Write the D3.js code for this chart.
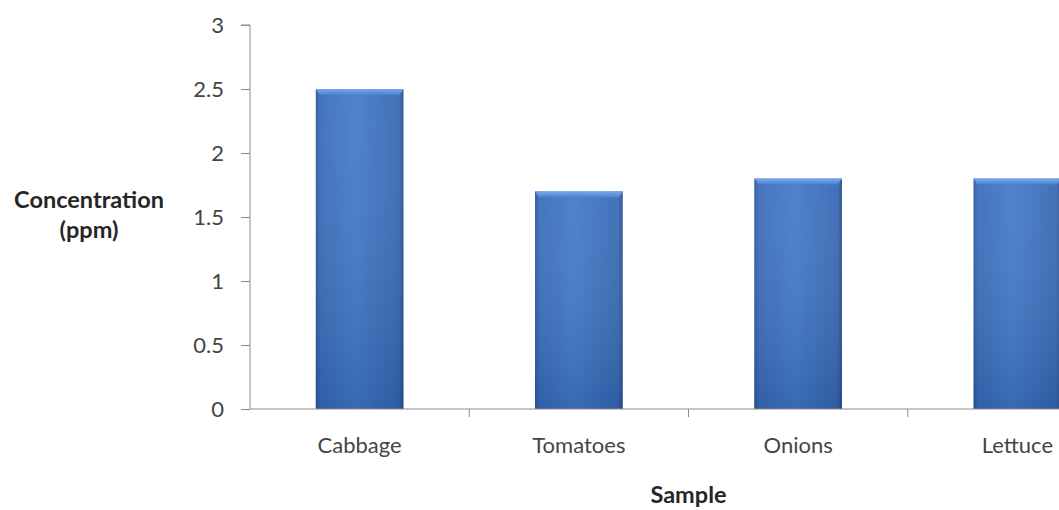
<!DOCTYPE html>
<html>
<head>
<meta charset="utf-8">
<script src="https://cdn.jsdelivr.net/npm/d3@7"></script>
<style>
  html, body { margin: 0; padding: 0; background: #fff; overflow: hidden; }
  svg { display: block; }
  svg text { font-family: Lato, "Open Sans", sans-serif; }
</style>
</head>
<body>
<svg id="chart" width="1059" height="510"></svg>
<script>
// Concentration per vegetable sample
const categories = ["Cabbage", "Tomatoes", "Onions", "Lettuce"];
const values = [2.5, 1.7, 1.8, 1.8];
const yTicks = [0, 0.5, 1, 1.5, 2, 2.5, 3];

const svg = d3.select("#chart");
const plotLeft = 250, plotTop = 25, plotW = 877, plotH = 384;

const x = d3.scaleBand().domain(categories).range([plotLeft, plotLeft + plotW]).paddingInner(0.6).paddingOuter(0.3);
const bandX = d3.scaleBand().domain(categories).range([plotLeft, plotLeft + plotW]);
const y = d3.scaleLinear().domain([0, 3]).range([plotTop + plotH, plotTop]);

const defs = svg.append("defs");
const g1 = defs.append("linearGradient").attr("id", "barH").attr("x1", 0).attr("x2", 1).attr("y1", 0).attr("y2", 0);
g1.append("stop").attr("offset", "0%").attr("stop-color", "#2b5596");
g1.append("stop").attr("offset", "5%").attr("stop-color", "#396cb9");
g1.append("stop").attr("offset", "45%").attr("stop-color", "#427ac9");
g1.append("stop").attr("offset", "95%").attr("stop-color", "#3768b3");
g1.append("stop").attr("offset", "100%").attr("stop-color", "#274d8a");
const g2 = defs.append("linearGradient").attr("id", "barV").attr("x1", 0).attr("x2", 0).attr("y1", 0).attr("y2", 1);
g2.append("stop").attr("offset", "0%").attr("stop-color", "#ffffff").attr("stop-opacity", 0.06);
g2.append("stop").attr("offset", "100%").attr("stop-color", "#0a2a5a").attr("stop-opacity", 0.2);
const g3 = defs.append("linearGradient").attr("id", "bevel").attr("x1", 0).attr("x2", 0).attr("y1", 0).attr("y2", 1);
g3.append("stop").attr("offset", "0%").attr("stop-color", "#76a8ea");
g3.append("stop").attr("offset", "100%").attr("stop-color", "#4a82d2");

// Bars
const bars = svg.append("g").selectAll("g").data(categories).join("g");
bars.append("rect")
  .attr("x", d => x(d)).attr("width", x.bandwidth())
  .attr("y", (d, i) => y(values[i])).attr("height", (d, i) => y(0) - y(values[i]))
  .attr("fill", "url(#barH)");
bars.append("rect")
  .attr("x", d => x(d)).attr("width", x.bandwidth())
  .attr("y", (d, i) => y(values[i])).attr("height", (d, i) => y(0) - y(values[i]))
  .attr("fill", "url(#barV)");
bars.append("path")
  .attr("d", (d, i) => {
    const x0 = x(d), x1 = x0 + x.bandwidth(), t = y(values[i]);
    return `M${x0},${t}L${x1},${t}L${x1 - 4},${t + 6}L${x0 + 4},${t + 6}Z`;
  })
  .attr("fill", "url(#bevel)");

// Y axis
const yAxis = svg.append("g").attr("transform", `translate(${plotLeft},0)`)
  .call(d3.axisLeft(y).tickValues(yTicks).tickSize(9).tickPadding(17).tickFormat(d3.format("")));
yAxis.attr("font-family", null);
yAxis.select(".domain").attr("stroke", "#8c8c8c").attr("d", `M-9,${plotTop}H0V${plotTop + plotH}`);
yAxis.selectAll(".tick line").attr("stroke", "#8c8c8c");
yAxis.selectAll(".tick text").attr("fill", "#454545").attr("font-size", 22);

// X axis
const xAxis = svg.append("g").attr("transform", `translate(0,${plotTop + plotH})`)
  .call(d3.axisBottom(bandX).tickSize(0).tickPadding(28));
xAxis.attr("font-family", null);
xAxis.select(".domain").attr("stroke", "#8c8c8c").attr("d", `M${plotLeft},0H${plotLeft + plotW}`);
xAxis.selectAll(".tick text").attr("fill", "#454545").attr("font-size", 22);
xAxis.selectAll(".sep").data(categories.slice(1)).join("line")
  .attr("class", "sep")
  .attr("x1", d => bandX(d)).attr("x2", d => bandX(d))
  .attr("y1", 0).attr("y2", 8).attr("stroke", "#8c8c8c");

// Axis titles
const yt = svg.append("text").attr("x", 89).attr("y", 208).attr("text-anchor", "middle")
  .attr("font-size", 23.5).attr("font-weight", "bold").attr("fill", "#262626");
yt.append("tspan").attr("x", 89).text("Concentration");
yt.append("tspan").attr("x", 89).attr("dy", 30).text("(ppm)");

svg.append("text").attr("x", plotLeft + plotW / 2).attr("y", 503).attr("text-anchor", "middle")
  .attr("font-size", 23.5).attr("font-weight", "bold").attr("fill", "#262626").text("Sample");
</script>
</body>
</html>
